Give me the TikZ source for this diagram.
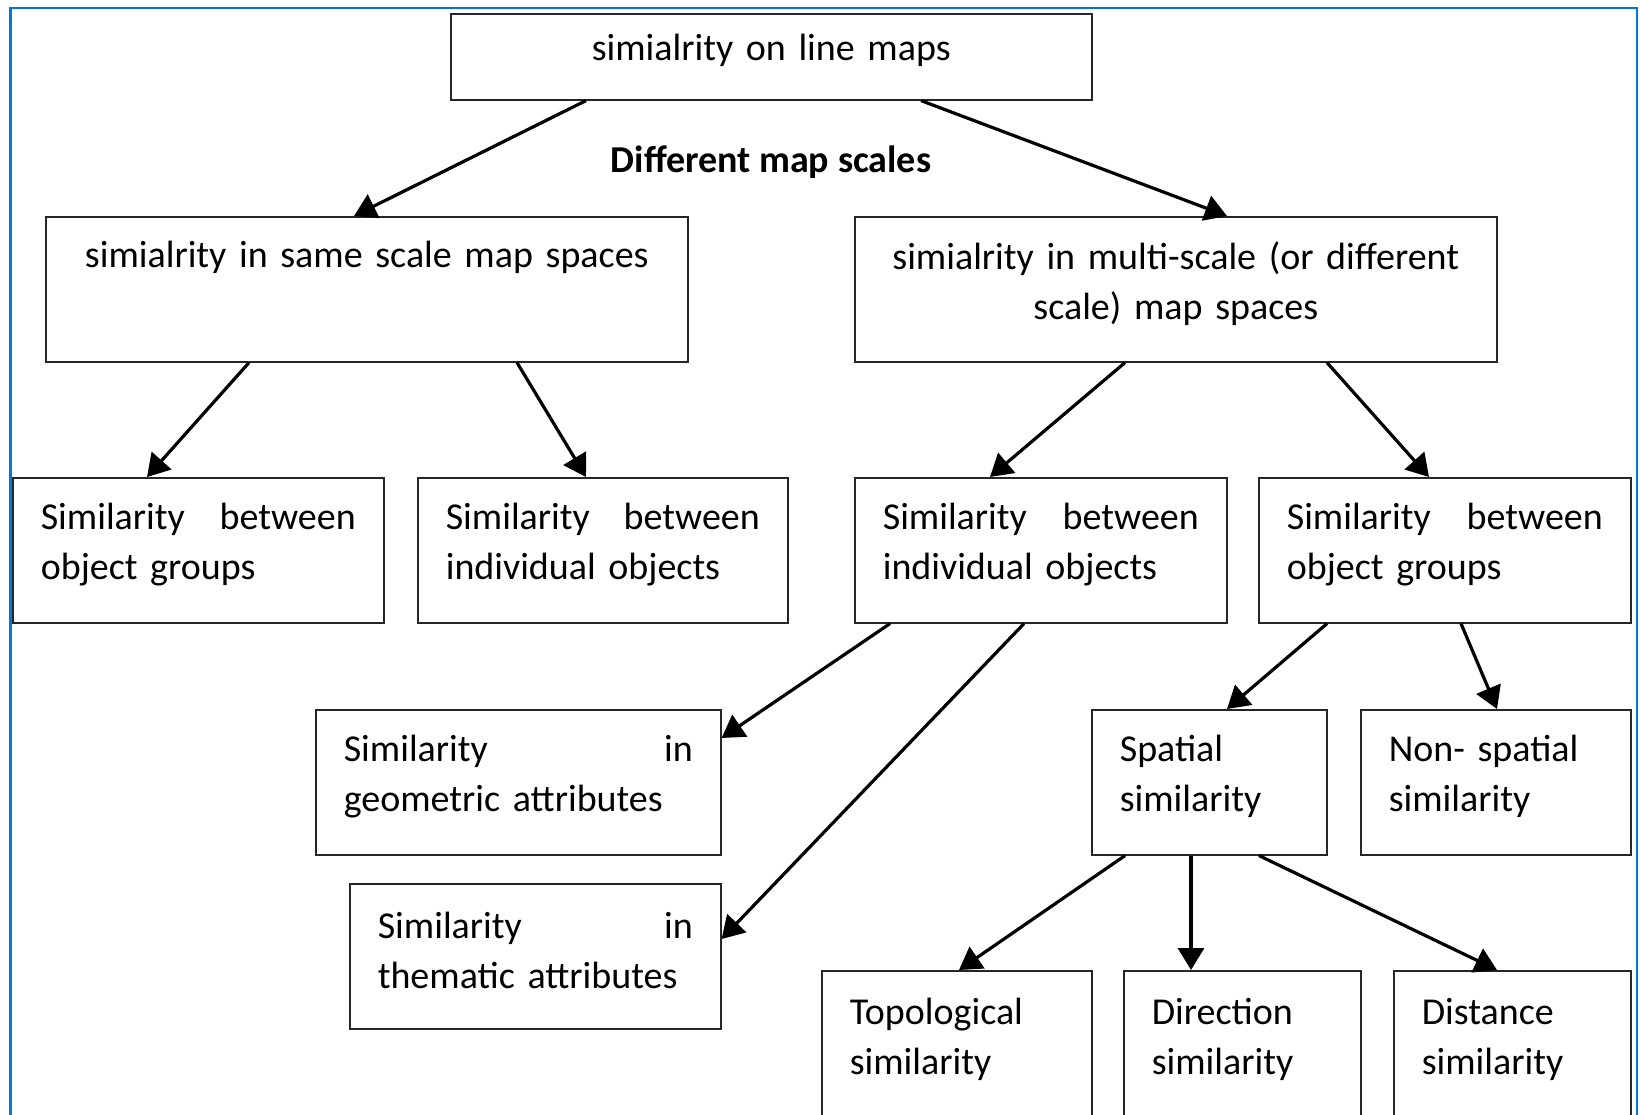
\documentclass[tikz,border=0pt]{standalone}
\usepackage{fontspec}
\setmainfont{Carlito}
\usetikzlibrary{arrows.meta, positioning, calc}

\begin{document}
\begin{tikzpicture}[
  x=1pt, y=-1pt,
  font=\fontsize{38}{50}\selectfont,
  box/.style={draw=black!85, line width=1.6pt, anchor=north west, inner xsep=28pt,
              inner ysep=0pt, align=left, execute at end node={\endgraf\vspace{12pt}}},
  cbox/.style={box, align=center},
  head/.style={font=\fontsize{38}{50}\selectfont\bfseries},
  arr/.style={-{Triangle[length=22pt,width=26pt]}, line width=3.2pt},
  frame/.style={draw={rgb,255:red,0;green,120;blue,215}, line width=2.4pt}
]
\useasboundingbox (0,0) rectangle (1641,1115);
\draw[frame] (10.5,1130) |- (1637,8) -- (1637,1130);

% top level
\node[cbox, text width=585pt, minimum height=86pt] (root) at (450,13)
  {simialrity on line maps};
\node[head] (scales) at (771,162) {Different map scales};

% second level
\node[cbox, text width=586pt, minimum height=145pt] (same) at (45,216)
  {simialrity in same scale map spaces\\[8pt] \mbox{}};
\node[cbox, text width=586pt, minimum height=145pt] (multi) at (854,216)
  {simialrity in multi-scale (or different\\scale) map spaces};

% third level
\node[box, text width=315pt, minimum height=145pt] (sgrp) at (12,477)
  {Similarity\hfill between\\object groups};
\node[box, text width=314pt, minimum height=145pt] (sind) at (417,477)
  {Similarity\hfill between\\individual objects};
\node[box, text width=316pt, minimum height=145pt] (mind) at (854,477)
  {Similarity\hfill between\\individual objects};
\node[box, text width=316pt, minimum height=145pt] (mgrp) at (1258,477)
  {Similarity\hfill between\\object groups};

% fourth level
\node[box, text width=349pt, minimum height=145pt] (geom) at (315,709)
  {Similarity\hfill in\\geometric attributes};
\node[box, text width=315pt, minimum height=145pt] (them) at (349,883)
  {Similarity\hfill in\\thematic attributes};
\node[box, text width=179pt, minimum height=145pt] (spat) at (1091,709)
  {Spatial\\similarity};
\node[box, text width=214pt, minimum height=145pt] (nspat) at (1360,709)
  {Non- spatial\\similarity};

% bottom row
\node[box, text width=214pt, minimum height=150pt] (topo) at (821,970)
  {Topological\\similarity};
\node[box, text width=181pt, minimum height=150pt] (dirc) at (1123,970)
  {Direction\\similarity};
\node[box, text width=181pt, minimum height=150pt] (dist) at (1393,970)
  {Distance\\similarity};

% connectors
\draw[arr] ([xshift=136]root.south west) -- ([xshift=309]same.north west);
\draw[arr] ([xshift=471]root.south west) -- ([xshift=373]multi.north west);
\draw[arr] ([xshift=204]same.south west) -- ([xshift=135]sgrp.north west);
\draw[arr] ([xshift=472]same.south west) -- ([xshift=169]sind.north west);
\draw[arr] ([xshift=271]multi.south west) -- ([xshift=136]mind.north west);
\draw[arr] ([xshift=473]multi.south west) -- ([xshift=171]mgrp.north west);
\draw[arr] ([xshift=36]mind.south west) -- ([yshift=-29]geom.north east);
\draw[arr] ([xshift=170]mind.south west) -- ([yshift=-56]them.north east);
\draw[arr] ([xshift=69]mgrp.south west) -- ([xshift=136]spat.north west);
\draw[arr] ([xshift=203]mgrp.south west) -- ([xshift=137]nspat.north west);
\draw[arr] ([xshift=34]spat.south west) -- ([xshift=138]topo.north west);
\draw[arr] ([xshift=100]spat.south west) -- ([xshift=68]dirc.north west);
\draw[arr] ([xshift=168]spat.south west) -- ([xshift=104]dist.north west);
\end{tikzpicture}
\end{document}
